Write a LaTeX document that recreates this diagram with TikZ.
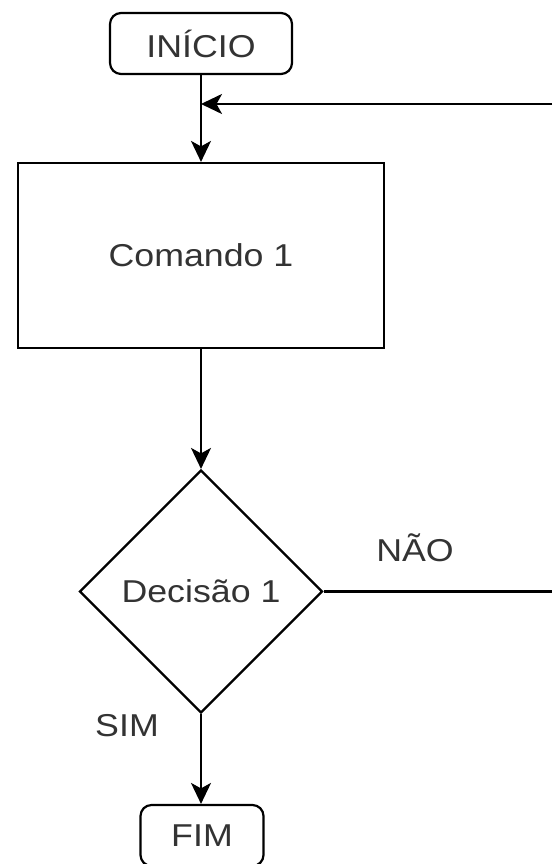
\documentclass[tikz,border=0pt]{standalone}
\usepackage{fontspec}
\setmainfont{Liberation Sans}
\usetikzlibrary{arrows.meta,shapes.geometric}
\definecolor{texto}{HTML}{333333}
\newcommand{\letra}{\fontsize{18}{20}\selectfont}
\newcommand{\largo}[1]{\scalebox{1.13}[1]{#1}}
\tikzset{
  seta/.style={-{Stealth[length=4.2mm,width=4mm,inset=1.1mm]},line width=1.25pt},
  linha/.style={line width=1.25pt},
  terminal/.style={draw,rounded corners=2.2mm,line width=1.25pt,minimum width=3.64cm,minimum height=1.22cm,font=\letra,text=texto},
  caixa/.style={draw,line width=1.25pt,minimum width=7.32cm,minimum height=3.7cm,font=\letra,text=texto},
  losango/.style={diamond,draw,line width=1.25pt,inner sep=0pt,minimum width=4.86cm,minimum height=4.86cm,font=\letra,text=texto},
  rotulo/.style={font=\letra,text=texto},
}
\begin{document}
\begin{tikzpicture}[x=0.02cm,y=-0.02cm]
  \useasboundingbox (0,0) rectangle (552,864);
  % blocos
  \node[terminal] (inicio) at (201,43.5) {\largo{INÍCIO}};
  \node[caixa] (comando) at (201,255.5) {\largo{Comando 1}};
  \node[losango] (decisao) at (201,591.5) {\largo{Decisão 1}};
  \node[terminal,minimum width=2.46cm] (fim) at (202,835.5) {\largo{FIM}};
  % pontos de ligacao
  \coordinate (juncao) at (201,104);
  \coordinate (volta) at (552,104);
  \coordinate (saida) at (552,591.5);
  % ligacoes
  \draw[seta] (inicio) -- (comando);
  \draw[seta] (volta) -- (juncao);
  \draw[seta] (comando) -- (decisao);
  \draw[linha] (decisao.east) -- (saida);
  \draw[seta] (decisao.south) -- (decisao.south |- fim.north);
  % rotulos
  \node[rotulo] (nao) at (415,548) {\largo{NÃO}};
  \node[rotulo] (sim) at (127,726) {\largo{SIM}};
\end{tikzpicture}
\end{document}
